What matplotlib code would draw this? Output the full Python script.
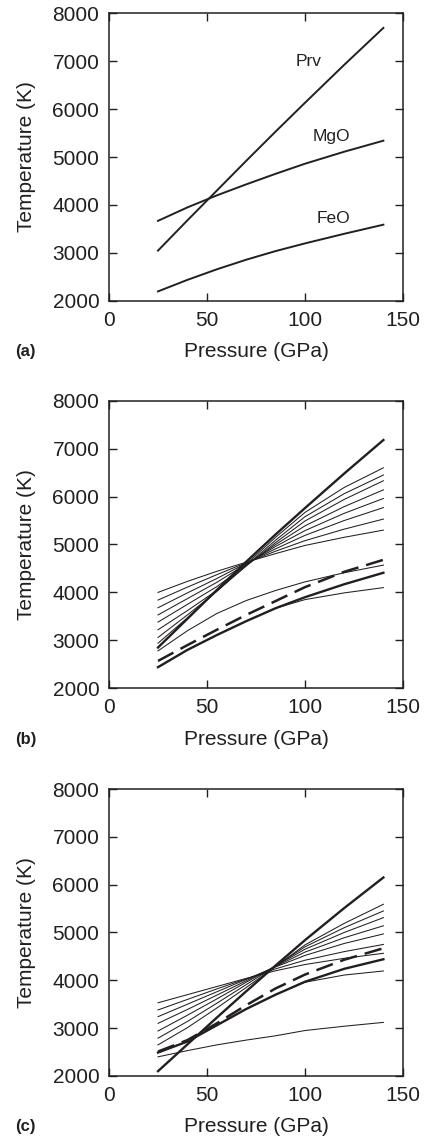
import matplotlib.pyplot as plt

plt.rcParams['font.family'] = ['Liberation Sans', 'DejaVu Sans']

INK = '#231f20'

# pressure grid (GPa) the curves were read at
pressure = [25, 40, 55, 70, 85, 100, 120, 140]

# panel (a): end-member melting curves (K)
prv_a = [3050, 3680, 4300, 4920, 5530, 6130, 6920, 7690]
mgo_a = [3670, 3950, 4200, 4430, 4650, 4860, 5110, 5340]
feo_a = [2200, 2440, 2660, 2860, 3040, 3200, 3400, 3590]
labels_a = ["Prv", "MgO", "FeO"]
label_pos_a = [(102, 6980), (113.5, 5420), (114.5, 3720)]

# panel (b)
prv_b = [2850, 3450, 4050, 4640, 5210, 5760, 6480, 7180]
solidus_b = [2440, 2800, 3110, 3400, 3670, 3900, 4170, 4410]
dashed_b = [2570, 2900, 3220, 3530, 3820, 4110, 4430, 4680]
thin_b = [
    [4000, 4230, 4440, 4630, 4810, 4980, 5150, 5300],
    [3840, 4110, 4370, 4620, 4860, 5080, 5320, 5530],
    [3680, 3990, 4290, 4610, 4910, 5190, 5500, 5770],
    [3530, 3870, 4210, 4590, 4960, 5290, 5650, 5960],
    [3380, 3750, 4120, 4570, 5000, 5390, 5790, 6140],
    [3220, 3620, 4040, 4550, 5040, 5490, 5940, 6330],
    [3060, 3530, 4020, 4560, 5090, 5580, 6060, 6450],
    [2940, 3470, 4030, 4590, 5150, 5670, 6190, 6600],
    [2780, 3200, 3560, 3830, 4040, 4220, 4410, 4570],
    [2440, 2800, 3110, 3400, 3670, 3850, 3990, 4100],
]

# panel (c)
prv_c = [2100, 2660, 3220, 3770, 4310, 4840, 5510, 6150]
solidus_c = [2490, 2720, 3060, 3400, 3700, 3970, 4240, 4440]
dashed_c = [2510, 2750, 3100, 3480, 3830, 4120, 4430, 4670]
thin_c = [
    [3530, 3700, 3870, 4040, 4200, 4330, 4460, 4565],
    [3380, 3600, 3820, 4030, 4240, 4420, 4600, 4750],
    [3240, 3500, 3760, 4020, 4280, 4520, 4770, 4970],
    [3100, 3390, 3690, 3990, 4290, 4590, 4890, 5140],
    [2940, 3270, 3610, 3960, 4300, 4650, 5000, 5310],
    [2790, 3140, 3520, 3910, 4300, 4700, 5100, 5450],
    [2650, 3010, 3420, 3850, 4290, 4740, 5190, 5590],
    [2490, 2720, 3060, 3400, 3700, 3960, 4110, 4195],
    [2400, 2530, 2650, 2750, 2840, 2950, 3040, 3120],
]

x_ticks = [0, 50, 100, 150]
y_ticks = [2000, 3000, 4000, 5000, 6000, 7000, 8000]

fig = plt.figure(figsize=(4.26, 11.41), dpi=100)

boxes = [
    [0.2559, 0.7362, 0.6901, 0.2524],
    [0.2559, 0.3968, 0.6901, 0.2520],
    [0.2559, 0.0570, 0.6901, 0.2515],
]
panel_names = ["(a)", "(b)", "(c)"]

axes = []
for box, name in zip(boxes, panel_names):
    ax = fig.add_axes(box)
    ax.set_xlim(0, 150)
    ax.set_ylim(2000, 8000)
    ax.set_xticks(x_ticks)
    ax.set_yticks(y_ticks)
    ax.tick_params(direction='in', length=6, width=1, top=True, right=True,
                   labelsize=15, colors=INK, pad=7)
    for s in ax.spines.values():
        s.set_linewidth(1.1)
        s.set_color(INK)
    ax.set_xlabel("Pressure (GPa)", fontsize=15, color=INK, va='center')
    ax.xaxis.set_label_coords(0.5, -0.177)
    ax.set_ylabel("Temperature (K)", fontsize=15, color=INK, va='center')
    ax.yaxis.set_label_coords(-0.28, 0.5)
    ax.text(-0.32, -0.177, name, transform=ax.transAxes, fontsize=12,
            fontweight='bold', color=INK, ha='left', va='center')
    axes.append(ax)

# (a)
ax = axes[0]
for curve in [prv_a, mgo_a, feo_a]:
    ax.plot(pressure, curve, color=INK, lw=1.4)
for lab, (px, ty) in zip(labels_a, label_pos_a):
    ax.text(px, ty, lab, fontsize=12.5, color=INK, ha='center', va='center')

# (b) and (c)
for ax, thin, prv, sol, dash in [(axes[1], thin_b, prv_b, solidus_b, dashed_b),
                                 (axes[2], thin_c, prv_c, solidus_c, dashed_c)]:
    for curve in thin:
        ax.plot(pressure, curve, color=INK, lw=0.75)
    ax.plot(pressure, prv, color=INK, lw=1.7)
    ax.plot(pressure, sol, color=INK, lw=1.7)
    ax.plot(pressure, dash, color=INK, lw=1.8, linestyle=(0, (7, 3.2)))

fig.savefig('out.png', dpi=100)
